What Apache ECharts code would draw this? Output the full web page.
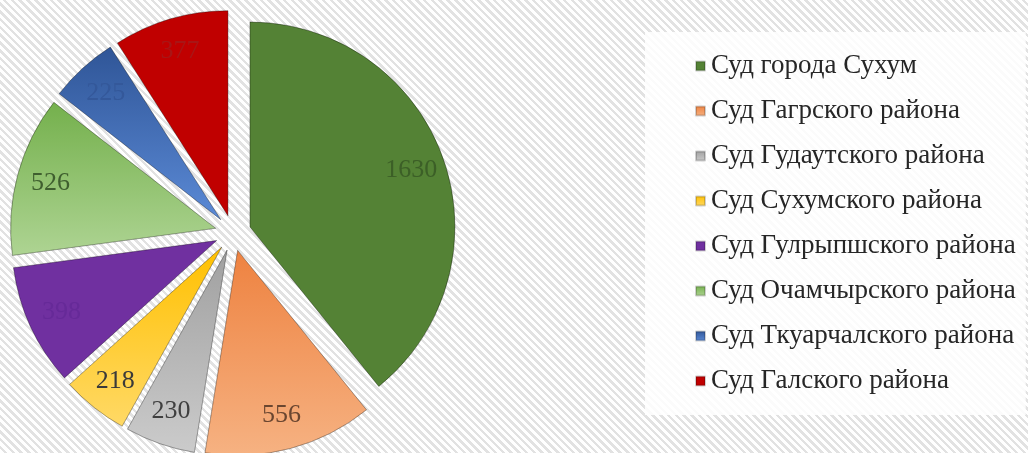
<!DOCTYPE html>
<html>
<head>
<meta charset="utf-8">
<script src="https://cdn.jsdelivr.net/npm/echarts@6/dist/echarts.min.js"></script>
<style>
  html, body { margin: 0; padding: 0; }
  body {
    width: 1028px; height: 453px;
    background: repeating-linear-gradient(45deg, #ffffff 0px, #ffffff 3px, #e2e2e2 3px, #e2e2e2 5.5px);
  }
  #main { width: 1028px; height: 453px; }
</style>
</head>
<body>
<div id="main"></div>
<script>
// суды и количество дел
var courts = ['Суд города Сухум', 'Суд Гагрского района', 'Суд Гудаутского района', 'Суд Сухумского района',
  'Суд Гулрыпшского района', 'Суд Очамчырского района', 'Суд Ткуарчалского района', 'Суд Галского района'];
var cases = [1630, 556, 230, 218, 398, 526, 225, 377];

// цвета секторов (верх, низ градиента) и цвет подписи
var colorTop = ['#548235', '#ee8240', '#a0a0a0', '#ffc000', '#7030a0', '#74b04c', '#2f5597', '#c00000'];
var colorBottom = ['#548235', '#f6b282', '#cbcbcb', '#ffd966', '#7030a0', '#aed493', '#5b8ad6', '#c00000'];
var labelColor = ['#3c5f27', '#6a4630', '#3f3f3f', '#3a3a3a', '#662a98', '#3f5f2f', '#34589a', '#a81616'];

var serif = "'Liberation Serif', 'DejaVu Serif', serif";

var chart = echarts.init(document.getElementById('main'));

function getData(withLabel) {
  var arr = [];
  for (var i = 0; i < courts.length; i++) {
    arr.push({
      name: courts[i],
      value: cases[i],
      selected: true,
      itemStyle: withLabel ? { color: 'rgba(0,0,0,0)', borderWidth: 0 } : {
        color: new echarts.graphic.LinearGradient(0, 0, 0, 1, [
          { offset: 0, color: colorTop[i] },
          { offset: 1, color: colorBottom[i] }
        ]),
        borderColor: 'rgba(0,0,0,0.18)',
        borderWidth: 1
      },
      label: { color: labelColor[i] }
    });
  }
  return arr;
}

var option = {
  backgroundColor: 'transparent',
  legend: {
    orient: 'vertical',
    left: 645,
    top: 32,
    backgroundColor: 'rgba(255,255,255,0.85)',
    padding: [20, 10, 20, 50],
    itemWidth: 9,
    itemHeight: 9,
    itemGap: 17,
    icon: 'rect',
    data: courts,
    textStyle: {
      fontFamily: serif,
      fontSize: 27,
      lineHeight: 28,
      color: '#262626',
      padding: [0, 0, 0, 1]
    }
  },
  series: [
    {
      type: 'pie',
      center: [233, 233],
      radius: [0, 205],
      startAngle: 90,
      selectedMode: 'multiple',
      selectedOffset: 18,
      silent: true,
      label: { show: false },
      labelLine: { show: false },
      data: getData(false)
    },
    {
      // невидимое кольцо только для подписей у внешнего края
      type: 'pie',
      center: [233, 233],
      radius: [131, 205],
      startAngle: 90,
      selectedMode: 'multiple',
      selectedOffset: 18,
      silent: true,
      legendHoverLink: false,
      label: {
        show: true,
        position: 'inside',
        formatter: '{c}',
        fontFamily: serif,
        fontSize: 26
      },
      labelLine: { show: false },
      data: getData(true)
    }
  ]
};

chart.setOption(option);
</script>
</body>
</html>
